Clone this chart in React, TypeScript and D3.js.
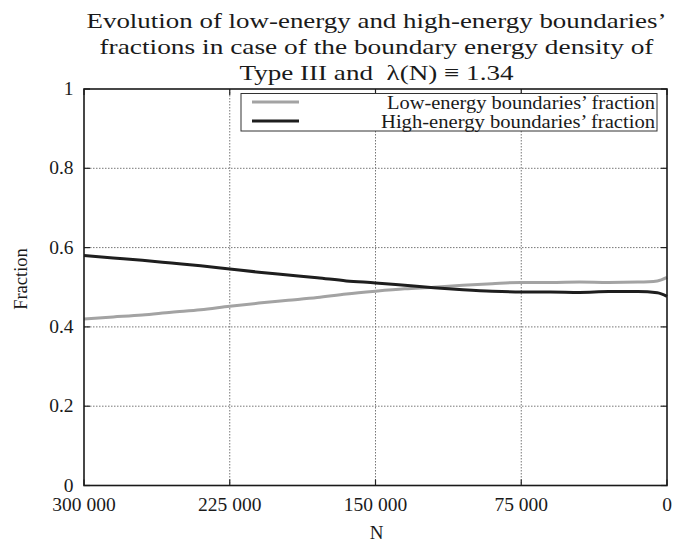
import React from "react";
import * as d3 from "d3";

// Number of boundaries N (the run goes from 300 000 down to 0)
const nValues = [300000, 285000, 270000, 255000, 240000, 225000, 210000, 195000, 180000, 165000, 150000, 135000, 120000, 105000, 90000, 75000, 60000, 45000, 30000, 15000, 5000, 0];
// Low-energy boundaries' fraction
const lowEnergy = [0.420, 0.425, 0.430, 0.437, 0.443, 0.452, 0.460, 0.467, 0.474, 0.483, 0.490, 0.496, 0.500, 0.505, 0.509, 0.512, 0.512, 0.513, 0.512, 0.513, 0.516, 0.525];
// High-energy boundaries' fraction
const highEnergy = [0.580, 0.574, 0.568, 0.561, 0.554, 0.546, 0.538, 0.531, 0.524, 0.516, 0.511, 0.505, 0.499, 0.494, 0.490, 0.488, 0.488, 0.487, 0.489, 0.489, 0.486, 0.477];

const xTicks = [300000, 225000, 150000, 75000, 0];
const xTickLabels = ["300 000", "225 000", "150 000", "75 000", "0"];
const yTicks = [0, 0.2, 0.4, 0.6, 0.8, 1];
const yTickLabels = ["0", "0.2", "0.4", "0.6", "0.8", "1"];

const titleLines = [
  "Evolution of low-energy and high-energy boundaries\u2019",
  "fractions in case of the boundary energy density of",
  "Type III and  \u03bb(N) \u2261 1.34",
];
const titleWidths = [580, 554, 274];
const seriesNames = ["Low-energy boundaries\u2019 fraction", "High-energy boundaries\u2019 fraction"];
const legendWidths = [268, 274];
const seriesColors = ["#a3a3a3", "#1e1e1e"];

const W = 690;
const H = 544;
const left = 84;
const right = 667;
const top = 89;
const bottom = 485.5;
const FONT = "'Liberation Serif', 'Times New Roman', serif";
const INK = "#1a1a1a";

export default function App() {
  const x = d3.scaleLinear().domain([300000, 0]).range([left, right]);
  const y = d3.scaleLinear().domain([0, 1]).range([bottom, top]);

  const line = d3
    .line<number>()
    .x((_, i) => x(nValues[i]))
    .y((d) => y(d))
    .curve(d3.curveMonotoneX);

  const series = [lowEnergy, highEnergy];
  const cx = (left + right) / 2 + 1;

  return (
    <svg
      width={W}
      height={H}
      viewBox={`0 0 ${W} ${H}`}
      style={{ position: "absolute", left: 0, top: 0, background: "#fff" }}
      fontFamily={FONT}
    >
      <rect x={0} y={0} width={W} height={H} fill="#fff" />

      {/* title */}
      {titleLines.map((t, i) => (
        <text
          key={i}
          x={cx}
          y={28 + i * 26}
          textAnchor="middle"
          fontSize={22}
          fill={INK}
          textLength={titleWidths[i]}
          lengthAdjust="spacingAndGlyphs"
          style={{ whiteSpace: "pre" }}
        >
          {t}
        </text>
      ))}

      {/* grid */}
      {xTicks.slice(1, -1).map((v) => (
        <line key={"gx" + v} x1={x(v)} x2={x(v)} y1={top} y2={bottom} stroke="#777" strokeWidth={1} strokeDasharray="1.5,1.5" />
      ))}
      {yTicks.slice(1, -1).map((v) => (
        <line key={"gy" + v} x1={left} x2={right} y1={y(v)} y2={y(v)} stroke="#777" strokeWidth={1} strokeDasharray="1.5,1.5" />
      ))}

      {/* inward tick marks on all four sides */}
      {xTicks.map((v) => (
        <g key={"tx" + v}>
          <line x1={x(v)} x2={x(v)} y1={bottom} y2={bottom - 6} stroke="#222" strokeWidth={1.2} />
          <line x1={x(v)} x2={x(v)} y1={top} y2={top + 6} stroke="#222" strokeWidth={1.2} />
        </g>
      ))}
      {yTicks.map((v) => (
        <g key={"ty" + v}>
          <line x1={left} x2={left + 6} y1={y(v)} y2={y(v)} stroke="#222" strokeWidth={1.2} />
          <line x1={right} x2={right - 6} y1={y(v)} y2={y(v)} stroke="#222" strokeWidth={1.2} />
        </g>
      ))}

      {/* data */}
      {series.map((s, i) => (
        <path key={"s" + i} d={line(s) || ""} fill="none" stroke={seriesColors[i]} strokeWidth={3} strokeLinejoin="round" />
      ))}

      {/* frame */}
      <rect x={left} y={top} width={right - left} height={bottom - top} fill="none" stroke={INK} strokeWidth={1.6} />

      {/* legend */}
      <rect x={241} y={93.5} width={416} height={37.5} fill="#fff" stroke="#333" strokeWidth={1} />
      {seriesNames.map((n, i) => (
        <g key={"l" + i}>
          <line x1={252} x2={299} y1={102 + i * 19} y2={102 + i * 19} stroke={seriesColors[i]} strokeWidth={3} />
          <text
            x={655}
            y={108.5 + i * 19}
            textAnchor="end"
            fontSize={18}
            fill={INK}
            textLength={legendWidths[i]}
            lengthAdjust="spacingAndGlyphs"
          >
            {n}
          </text>
        </g>
      ))}

      {/* tick labels */}
      {xTicks.map((v, i) => (
        <text key={"xl" + v} x={x(v)} y={511} textAnchor="middle" fontSize={19.5} fill={INK}>
          {xTickLabels[i]}
        </text>
      ))}
      {yTicks.map((v, i) => (
        <text key={"yl" + v} x={73.5} y={y(v) + 6} textAnchor="end" fontSize={19.5} fill={INK}>
          {yTickLabels[i]}
        </text>
      ))}

      {/* axis titles */}
      <text x={cx} y={539} textAnchor="middle" fontSize={19} fill={INK}>
        N
      </text>
      <text transform={`translate(27, 279) rotate(-90)`} textAnchor="middle" fontSize={18.5} fill={INK}>
        Fraction
      </text>
    </svg>
  );
}
